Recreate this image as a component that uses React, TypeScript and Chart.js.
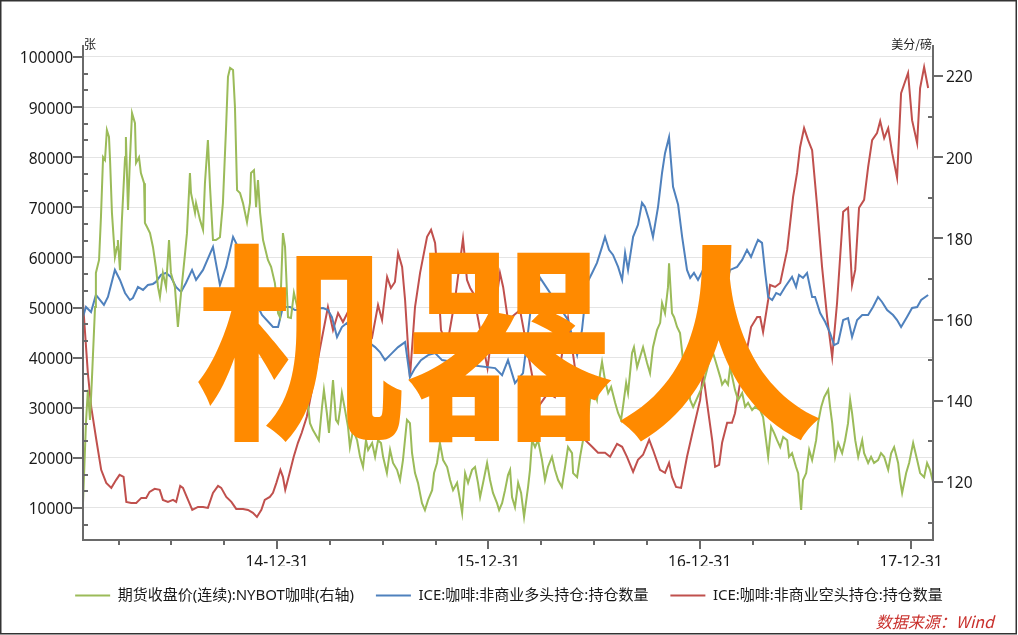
import React, { useEffect, useRef } from 'react';
import { Chart, registerables } from 'chart.js';

Chart.register(...registerables);

// ---------- data (x = fractional year, 2015.0 = 14-12-31) ----------
const seriesNames = [
  '期货收盘价(连续):NYBOT咖啡(右轴)',
  'ICE:咖啡:非商业多头持仓:持仓数量',
  'ICE:咖啡:非商业空头持仓:持仓数量',
];
const seriesColors = ['#9bbb59', '#4f81bd', '#c0504d'];

const xTickPositions = [2015, 2016, 2017, 2018];
const xTickLabels = ['14-12-31', '15-12-31', '16-12-31', '17-12-31'];
const xQuarterTicks = [
  2014.25, 2014.5, 2014.75, 2015, 2015.25, 2015.5, 2015.75, 2016,
  2016.25, 2016.5, 2016.75, 2017, 2017.25, 2017.5, 2017.75, 2018,
];
const leftMajorTicks = [10000, 20000, 30000, 40000, 50000, 60000, 70000, 80000, 90000, 100000];
const rightMajorTicks = [120, 140, 160, 180, 200, 220];
const rightMinorTicks = [110, 130, 150, 170, 190, 210];
const leftUnit = '张';
const rightUnit = '美分/磅';
const sourceNote = '数据来源：Wind';
const watermark = '机器人';

// 期货收盘价 (right axis, 美分/磅)
const greenPoints: [number, number][] = [
  [2014.082, 114.8], [2014.096, 134.5], [2014.105, 142.7], [2014.115, 135.3], [2014.124, 145.1],
  [2014.139, 163.1], [2014.143, 171.5], [2014.158, 174.7], [2014.167, 185.3], [2014.177, 200.0],
  [2014.186, 199.3], [2014.195, 206.7], [2014.205, 205.0], [2014.210, 199.3], [2014.219, 186.3],
  [2014.233, 175.4], [2014.243, 177.9], [2014.247, 179.6], [2014.257, 172.2], [2014.266, 184.5],
  [2014.281, 200.0], [2014.285, 205.0], [2014.295, 187.0], [2014.304, 199.3], [2014.314, 210.9],
  [2014.328, 208.4], [2014.333, 198.6], [2014.347, 200.0], [2014.356, 196.1], [2014.371, 193.6],
  [2014.375, 183.8], [2014.385, 182.8], [2014.399, 181.3], [2014.413, 177.9], [2014.427, 172.9],
  [2014.437, 168.0], [2014.446, 165.6], [2014.460, 171.5], [2014.475, 168.0], [2014.489, 179.6],
  [2014.498, 171.5], [2014.517, 168.0], [2014.531, 158.2], [2014.546, 166.6], [2014.565, 176.4],
  [2014.574, 181.3], [2014.588, 196.1], [2014.593, 191.2], [2014.612, 186.3], [2014.617, 188.7],
  [2014.636, 184.5], [2014.650, 182.1], [2014.659, 193.6], [2014.673, 204.2], [2014.683, 192.7],
  [2014.697, 179.6], [2014.711, 179.6], [2014.730, 180.3], [2014.744, 188.7], [2014.759, 207.4],
  [2014.768, 219.8], [2014.778, 222.0], [2014.792, 221.5], [2014.801, 212.4], [2014.811, 191.9],
  [2014.825, 191.2], [2014.839, 188.7], [2014.858, 184.0], [2014.872, 188.7], [2014.877, 196.1],
  [2014.891, 196.8], [2014.901, 187.7], [2014.910, 194.4], [2014.920, 186.3], [2014.934, 179.6],
  [2014.957, 174.7], [2014.972, 173.0], [2014.990, 169.0], [2015.005, 161.6], [2015.014, 160.6],
  [2015.028, 181.3], [2015.038, 177.9], [2015.052, 160.6], [2015.066, 160.4], [2015.080, 166.6],
  [2015.099, 162.4], [2015.156, 134.5], [2015.170, 132.8], [2015.189, 131.1], [2015.198, 130.3],
  [2015.213, 138.5], [2015.222, 142.7], [2015.236, 137.0], [2015.246, 132.1], [2015.260, 141.9],
  [2015.265, 145.1], [2015.279, 135.3], [2015.289, 134.5], [2015.298, 137.7], [2015.307, 141.9],
  [2015.322, 137.7], [2015.336, 133.6], [2015.345, 128.6], [2015.360, 132.8], [2015.379, 130.3],
  [2015.393, 126.2], [2015.407, 123.7], [2015.421, 130.3], [2015.431, 127.9], [2015.450, 129.6],
  [2015.464, 126.2], [2015.478, 130.3], [2015.492, 129.6], [2015.502, 126.2], [2015.520, 122.2],
  [2015.535, 127.9], [2015.549, 124.7], [2015.568, 123.0], [2015.582, 120.5], [2015.596, 125.4],
  [2015.615, 135.3], [2015.629, 134.5], [2015.639, 127.1], [2015.653, 122.2], [2015.667, 119.8],
  [2015.686, 114.8], [2015.700, 113.1], [2015.715, 115.6], [2015.734, 118.0], [2015.743, 122.2],
  [2015.757, 124.7], [2015.771, 129.6], [2015.786, 125.4], [2015.805, 123.7], [2015.819, 120.5],
  [2015.833, 118.0], [2015.852, 119.8], [2015.866, 115.6], [2015.876, 112.4], [2015.890, 122.2],
  [2015.904, 119.8], [2015.923, 123.0], [2015.937, 123.7], [2015.951, 119.8], [2015.961, 116.3],
  [2015.975, 119.8], [2015.994, 124.7], [2016.008, 120.5], [2016.022, 117.3], [2016.041, 114.8],
  [2016.051, 113.1], [2016.065, 114.8], [2016.079, 118.0], [2016.093, 121.7], [2016.103, 123.0],
  [2016.112, 116.3], [2016.126, 113.8], [2016.141, 119.8], [2016.155, 117.3], [2016.169, 111.4],
  [2016.188, 118.8], [2016.197, 123.0], [2016.207, 130.3], [2016.221, 128.6], [2016.235, 130.3],
  [2016.254, 125.4], [2016.268, 120.5], [2016.282, 123.7], [2016.301, 126.2], [2016.315, 123.0],
  [2016.330, 120.5], [2016.348, 118.8], [2016.363, 123.7], [2016.377, 128.6], [2016.396, 127.1],
  [2016.401, 122.2], [2016.420, 121.2], [2016.434, 126.2], [2016.448, 130.3], [2016.467, 134.5],
  [2016.481, 140.2], [2016.495, 143.4], [2016.514, 140.2], [2016.529, 146.8], [2016.538, 149.6],
  [2016.552, 145.1], [2016.567, 141.9], [2016.581, 143.4], [2016.600, 139.5], [2016.614, 137.0],
  [2016.628, 135.3], [2016.637, 138.5], [2016.652, 144.4], [2016.661, 141.9], [2016.680, 151.8],
  [2016.689, 153.2], [2016.704, 148.3], [2016.718, 150.8], [2016.732, 153.2], [2016.751, 149.3],
  [2016.765, 146.8], [2016.779, 153.2], [2016.798, 157.4], [2016.813, 159.2], [2016.822, 164.1],
  [2016.836, 161.6], [2016.850, 168.0], [2016.855, 173.9], [2016.869, 161.6], [2016.879, 160.6],
  [2016.893, 158.2], [2016.907, 156.7], [2016.921, 150.1], [2016.940, 146.8], [2016.955, 140.2],
  [2016.969, 138.5], [2017.016, 143.9], [2017.059, 152.5], [2017.073, 150.1], [2017.097, 145.9],
  [2017.106, 144.0], [2017.120, 145.1], [2017.134, 144.0], [2017.144, 148.3], [2017.167, 142.7],
  [2017.182, 140.2], [2017.201, 141.9], [2017.215, 138.5], [2017.229, 139.5], [2017.248, 137.7],
  [2017.262, 138.5], [2017.286, 137.7], [2017.300, 136.0], [2017.314, 130.3], [2017.324, 126.2],
  [2017.338, 133.6], [2017.352, 132.1], [2017.366, 130.3], [2017.381, 128.6], [2017.395, 131.1],
  [2017.414, 130.3], [2017.423, 126.2], [2017.437, 127.1], [2017.456, 123.7], [2017.466, 122.2],
  [2017.480, 113.1], [2017.489, 120.5], [2017.504, 122.2], [2017.518, 127.9], [2017.532, 125.4],
  [2017.551, 130.3], [2017.560, 134.5], [2017.575, 138.5], [2017.589, 140.9], [2017.608, 142.7],
  [2017.617, 138.5], [2017.627, 134.5], [2017.641, 126.2], [2017.655, 129.6], [2017.674, 127.1],
  [2017.688, 130.3], [2017.702, 134.5], [2017.712, 140.2], [2017.721, 137.0], [2017.736, 130.3],
  [2017.750, 126.2], [2017.769, 130.3], [2017.778, 127.1], [2017.797, 124.7], [2017.811, 126.2],
  [2017.825, 124.7], [2017.844, 125.4], [2017.858, 127.1], [2017.873, 126.2], [2017.892, 123.0],
  [2017.906, 127.1], [2017.920, 128.6], [2017.939, 124.7], [2017.948, 120.5], [2017.958, 117.3],
  [2017.977, 122.2], [2017.991, 124.7], [2018.010, 129.6], [2018.029, 125.4], [2018.043, 122.2],
  [2018.062, 121.2], [2018.076, 124.7], [2018.090, 123.0], [2018.104, 120.0],
];

// 非商业多头持仓 (left axis, 张)
const bluePoints: [number, number][] = [
  [2014.082, 48100], [2014.096, 50100], [2014.120, 49100], [2014.143, 52500], [2014.162, 51500],
  [2014.181, 50500], [2014.200, 52100], [2014.233, 57500], [2014.257, 55500], [2014.281, 52900],
  [2014.304, 51500], [2014.318, 51900], [2014.342, 54100], [2014.366, 53500], [2014.389, 54500],
  [2014.413, 54700], [2014.427, 55100], [2014.451, 56500], [2014.475, 56900], [2014.498, 56100],
  [2014.522, 54100], [2014.546, 53100], [2014.569, 54900], [2014.598, 57500], [2014.617, 55500],
  [2014.650, 57500], [2014.697, 62100], [2014.730, 54500], [2014.759, 58100], [2014.792, 64100],
  [2014.815, 62100], [2014.839, 57500], [2014.882, 52500], [2014.929, 48500], [2014.981, 46100],
  [2015.005, 46100], [2015.028, 50100], [2015.062, 50100], [2015.085, 49500], [2015.218, 49900],
  [2015.241, 49500], [2015.260, 48100], [2015.284, 44100], [2015.307, 46100], [2015.331, 46900],
  [2015.355, 45500], [2015.464, 42100], [2015.487, 41100], [2015.511, 39500], [2015.544, 40900],
  [2015.573, 42100], [2015.606, 43100], [2015.629, 36100], [2015.653, 37900], [2015.681, 39500],
  [2015.715, 40500], [2015.748, 40900], [2015.781, 39500], [2015.914, 38500], [2016.032, 37900],
  [2016.065, 36500], [2016.093, 39500], [2016.126, 34900], [2016.164, 36900], [2016.178, 41500],
  [2016.200, 49500], [2016.245, 55900], [2016.377, 47500], [2016.401, 43500], [2016.420, 40500],
  [2016.443, 45500], [2016.467, 54900], [2016.491, 56900], [2016.514, 58900], [2016.538, 62100],
  [2016.552, 64100], [2016.571, 61500], [2016.590, 60500], [2016.614, 58100], [2016.633, 55500],
  [2016.647, 60900], [2016.661, 57500], [2016.685, 64100], [2016.708, 66500], [2016.727, 70900],
  [2016.741, 70100], [2016.760, 67500], [2016.779, 64100], [2016.803, 70100], [2016.822, 76900],
  [2016.836, 80800], [2016.855, 84000], [2016.874, 74100], [2016.898, 70500], [2016.917, 64100],
  [2016.940, 57500], [2016.955, 55900], [2016.973, 56900], [2016.992, 55500], [2017.016, 57500],
  [2017.068, 57900], [2017.130, 55500], [2017.144, 57500], [2017.177, 58100], [2017.201, 59500],
  [2017.224, 61500], [2017.243, 60100], [2017.262, 62100], [2017.276, 63500], [2017.295, 62900],
  [2017.310, 56900], [2017.324, 52100], [2017.343, 51500], [2017.362, 52900], [2017.381, 52500],
  [2017.404, 54100], [2017.437, 56100], [2017.456, 54100], [2017.470, 56500], [2017.489, 55900],
  [2017.508, 56900], [2017.532, 52100], [2017.546, 52100], [2017.570, 48900], [2017.594, 47100],
  [2017.617, 44900], [2017.636, 42500], [2017.655, 42900], [2017.679, 47500], [2017.702, 47900],
  [2017.721, 44100], [2017.745, 47500], [2017.769, 48500], [2017.797, 48500], [2017.820, 50100],
  [2017.844, 52100], [2017.863, 51100], [2017.887, 49500], [2017.915, 48500], [2017.934, 47500],
  [2017.953, 46100], [2017.981, 48100], [2018.005, 49900], [2018.029, 50100], [2018.048, 51500],
  [2018.081, 52500],
];

// 非商业空头持仓 (left axis, 张)
const redPoints: [number, number][] = [
  [2014.082, 50900], [2014.105, 36900], [2014.121, 30100], [2014.145, 23600], [2014.168, 17600],
  [2014.192, 15000], [2014.216, 14000], [2014.239, 15600], [2014.255, 16600], [2014.274, 16200],
  [2014.287, 11200], [2014.310, 11000], [2014.334, 11000], [2014.358, 12000], [2014.381, 12000],
  [2014.397, 13200], [2014.421, 13800], [2014.445, 13600], [2014.460, 11600], [2014.484, 11200],
  [2014.508, 11600], [2014.523, 11200], [2014.542, 14400], [2014.555, 14000], [2014.579, 11600],
  [2014.599, 9600], [2014.626, 10200], [2014.650, 10200], [2014.673, 10000], [2014.697, 13000],
  [2014.721, 14400], [2014.736, 14000], [2014.760, 12200], [2014.784, 11200], [2014.807, 9800],
  [2014.839, 9800], [2014.863, 9600], [2014.886, 9000], [2014.905, 8200], [2014.926, 9600],
  [2014.942, 11600], [2014.966, 12200], [2014.981, 13000], [2014.997, 15000], [2015.016, 17600],
  [2015.028, 16200], [2015.039, 13600], [2015.060, 17000], [2015.079, 20200], [2015.099, 23000],
  [2015.117, 25000], [2015.141, 28200], [2015.241, 50100], [2015.265, 45500], [2015.289, 48900],
  [2015.312, 47100], [2015.345, 49900], [2015.450, 44100], [2015.478, 50500], [2015.497, 47500],
  [2015.521, 56100], [2015.539, 53900], [2015.558, 55100], [2015.573, 60900], [2015.592, 58100],
  [2015.606, 51500], [2015.629, 36100], [2015.653, 50100], [2015.677, 56900], [2015.710, 64100],
  [2015.729, 65500], [2015.748, 62900], [2015.762, 55500], [2015.776, 45500], [2015.805, 42500],
  [2015.842, 51500], [2015.880, 63700], [2015.899, 55500], [2015.914, 53900], [2015.928, 52900],
  [2015.996, 37900], [2016.055, 56900], [2016.070, 54100], [2016.093, 47500], [2016.150, 49500],
  [2016.235, 30100], [2016.282, 32900], [2016.315, 32100], [2016.377, 47900], [2016.457, 23600],
  [2016.491, 22200], [2016.519, 21000], [2016.552, 21000], [2016.576, 20200], [2016.609, 22800],
  [2016.633, 22200], [2016.656, 20200], [2016.685, 17200], [2016.708, 19600], [2016.732, 20600],
  [2016.761, 23600], [2016.779, 21600], [2016.812, 17600], [2016.836, 17000], [2016.855, 19000],
  [2016.869, 16200], [2016.888, 14200], [2016.912, 14000], [2016.940, 20200], [2016.969, 25600],
  [2017.002, 31500], [2017.016, 36900], [2017.035, 30900], [2017.059, 23600], [2017.073, 18200],
  [2017.092, 18600], [2017.106, 23000], [2017.130, 27000], [2017.153, 27000], [2017.167, 28900],
  [2017.191, 34900], [2017.215, 39500], [2017.243, 46100], [2017.272, 48100], [2017.286, 48100],
  [2017.300, 45100], [2017.324, 51500], [2017.333, 54500], [2017.357, 54100], [2017.381, 54900],
  [2017.414, 61500], [2017.442, 72100], [2017.461, 76900], [2017.475, 82000], [2017.494, 85800],
  [2017.513, 83400], [2017.532, 81400], [2017.556, 70100], [2017.579, 58100], [2017.603, 48100],
  [2017.627, 40100], [2017.650, 50900], [2017.679, 69100], [2017.702, 69900], [2017.721, 54500],
  [2017.736, 57500], [2017.754, 69900], [2017.778, 71500], [2017.797, 78000], [2017.816, 83400],
  [2017.839, 84800], [2017.854, 87200], [2017.873, 83800], [2017.892, 85800], [2017.911, 80800],
  [2017.934, 75900], [2017.953, 92800], [2017.986, 96800], [2018.005, 87400], [2018.029, 82800],
  [2018.043, 93800], [2018.062, 98000], [2018.081, 93800],
];

// ---------- styling ----------
const W = 1018;
const H = 635;
const FONT = "'Noto Sans', 'Noto Sans CJK SC', sans-serif";
const CJK_FONT = "'Noto Sans CJK SC', 'Noto Sans', sans-serif";
const AXIS_COLOR = '#6a6a6a';
const TEXT_COLOR = '#1a1a1a';
const GRID_COLOR = '#e4e4e4';

const X_MIN = 2014.082;
const X_MAX = 2018.104;
const L_MIN = 3593;
const L_MAX = 102395;
const R_MIN = 105.72;
const R_MAX = 227.64;

const decorPlugin = {
  id: 'decor',
  afterDraw(chart: any) {
    const { ctx, chartArea: a, scales } = chart;
    const yL = scales.yL;
    const yR = scales.yR;
    const x = scales.x;
    const seg = (x1: number, y1: number, x2: number, y2: number) => {
      ctx.beginPath();
      ctx.moveTo(x1, y1);
      ctx.lineTo(x2, y2);
      ctx.stroke();
    };
    ctx.save();
    ctx.strokeStyle = AXIS_COLOR;
    ctx.lineWidth = 2;
    seg(a.left, a.top, a.left, a.bottom + 1);
    seg(a.right, a.top, a.right, a.bottom + 1);
    seg(a.left - 1, a.bottom, a.right + 1, a.bottom);
    // left axis ticks: majors outside, minors inside
    leftMajorTicks.forEach((v) => {
      const p = Math.round(yL.getPixelForValue(v));
      seg(a.left - 10, p, a.left, p);
    });
    for (let i = 0; i < leftMajorTicks.length; i++) {
      for (let k = 1; k <= 2; k++) {
        const v = leftMajorTicks[i] - (10000 * k) / 3;
        if (v < L_MIN) continue;
        const p = Math.round(yL.getPixelForValue(v));
        seg(a.left, p, a.left + 5, p);
      }
    }
    // right axis ticks
    rightMajorTicks.forEach((v) => {
      const p = Math.round(yR.getPixelForValue(v));
      seg(a.right, p, a.right + 10, p);
    });
    rightMinorTicks.forEach((v) => {
      const p = Math.round(yR.getPixelForValue(v));
      seg(a.right - 5, p, a.right, p);
    });
    // x ticks
    xQuarterTicks.forEach((v) => {
      const p = Math.round(x.getPixelForValue(v));
      const major = xTickPositions.some((q) => Math.abs(q - v) < 1e-6);
      seg(p, a.bottom, p, a.bottom + (major ? 9 : 5));
    });

    // unit labels
    ctx.fillStyle = TEXT_COLOR;
    ctx.font = `12px ${CJK_FONT}`;
    ctx.textBaseline = 'middle';
    ctx.textAlign = 'left';
    ctx.fillText(leftUnit, a.left + 1, 44);
    ctx.textAlign = 'right';
    ctx.fillText(rightUnit, a.right - 1, 44);

    // source note
    ctx.fillStyle = '#c9302c';
    ctx.font = `italic 16px ${CJK_FONT}`;
    ctx.textAlign = 'right';
    ctx.fillText(sourceNote, 994, 622);

    // frame
    ctx.strokeStyle = '#333';
    ctx.lineWidth = 1.5;
    ctx.strokeRect(0.75, 0.75, W - 2.5, H - 2);

    // watermark
    ctx.fillStyle = '#ff8a00';
    ctx.font = `bold 210px ${CJK_FONT}`;
    ctx.textAlign = 'center';
    ctx.textBaseline = 'alphabetic';
    ctx.fillText(watermark, 509, 423);
    ctx.restore();
  },
};

export default function App() {
  const canvasRef = useRef<HTMLCanvasElement | null>(null);

  useEffect(() => {
    document.body.style.margin = '0';
    const canvas = canvasRef.current;
    if (!canvas) return;
    const toXY = (pts: [number, number][]) => pts.map(([d, v]) => ({ x: d, y: v }));

    const chart = new Chart(canvas, {
      type: 'line',
      data: {
        datasets: [
          {
            label: seriesNames[0],
            data: toXY(greenPoints),
            yAxisID: 'yR',
            borderColor: seriesColors[0],
            backgroundColor: seriesColors[0],
          },
          {
            label: seriesNames[1],
            data: toXY(bluePoints),
            yAxisID: 'yL',
            borderColor: seriesColors[1],
            backgroundColor: seriesColors[1],
          },
          {
            label: seriesNames[2],
            data: toXY(redPoints),
            yAxisID: 'yL',
            borderColor: seriesColors[2],
            backgroundColor: seriesColors[2],
          },
        ],
      },
      options: {
        animation: false,
        responsive: false,
        devicePixelRatio: 1,
        events: [],
        elements: {
          line: { borderWidth: 2, tension: 0 },
          point: { radius: 0 },
        },
        layout: { padding: { left: 0, right: 0, top: 45, bottom: 22 } },
        plugins: {
          tooltip: { enabled: false },
          legend: {
            position: 'bottom',
            align: 'center',
            labels: {
              usePointStyle: true,
              pointStyle: 'line',
              pointStyleWidth: 35,
              boxWidth: 35,
              padding: 22,
              color: TEXT_COLOR,
              font: { size: 15, family: FONT },
              generateLabels: (ch: any) =>
                ch.data.datasets.map((ds: any, i: number) => ({
                  text: ds.label,
                  datasetIndex: i,
                  hidden: false,
                  fillStyle: seriesColors[i],
                  strokeStyle: seriesColors[i],
                  lineWidth: 2,
                  pointStyle: 'line',
                  fontColor: TEXT_COLOR,
                })),
            },
          },
        },
        scales: {
          x: {
            type: 'linear',
            position: 'bottom',
            min: X_MIN,
            max: X_MAX,
            afterBuildTicks: (s: any) => {
              s.ticks = xQuarterTicks.map((v) => ({ value: v }));
            },
            afterFit: (s: any) => {
              s.height = 26;
            },
            grid: { display: false, drawTicks: false },
            border: { display: false },
            ticks: {
              autoSkip: false,
              maxRotation: 0,
              padding: 13,
              color: TEXT_COLOR,
              font: { size: 15.5, family: FONT },
              callback: (v: any) => {
                const i = xTickPositions.findIndex((p) => Math.abs(p - Number(v)) < 1e-6);
                return i >= 0 ? xTickLabels[i] : '';
              },
            },
          },
          yL: {
            type: 'linear',
            position: 'left',
            min: L_MIN,
            max: L_MAX,
            afterBuildTicks: (s: any) => {
              s.ticks = leftMajorTicks.map((v) => ({ value: v }));
            },
            afterFit: (s: any) => {
              s.width = 83;
            },
            grid: { display: true, drawTicks: false, color: GRID_COLOR, lineWidth: 1 },
            border: { display: false },
            ticks: {
              autoSkip: false,
              padding: 10,
              labelOffset: 2,
              color: TEXT_COLOR,
              font: { size: 15.5, family: FONT },
              callback: (v: any) => String(v),
            },
          },
          yR: {
            type: 'linear',
            position: 'right',
            min: R_MIN,
            max: R_MAX,
            afterBuildTicks: (s: any) => {
              s.ticks = rightMajorTicks.map((v) => ({ value: v }));
            },
            afterFit: (s: any) => {
              s.width = 85;
            },
            grid: { display: false, drawTicks: false },
            border: { display: false },
            ticks: {
              autoSkip: false,
              padding: 13,
              labelOffset: 2,
              color: TEXT_COLOR,
              font: { size: 15.5, family: FONT },
              callback: (v: any) => String(v),
            },
          },
        },
      },
      plugins: [decorPlugin],
    } as any);

    return () => chart.destroy();
  }, []);

  return (
    <div style={{ width: W, height: H, position: 'relative', background: '#fff' }}>
      <canvas ref={canvasRef} width={W} height={H} style={{ width: W, height: H, display: 'block' }} />
    </div>
  );
}
